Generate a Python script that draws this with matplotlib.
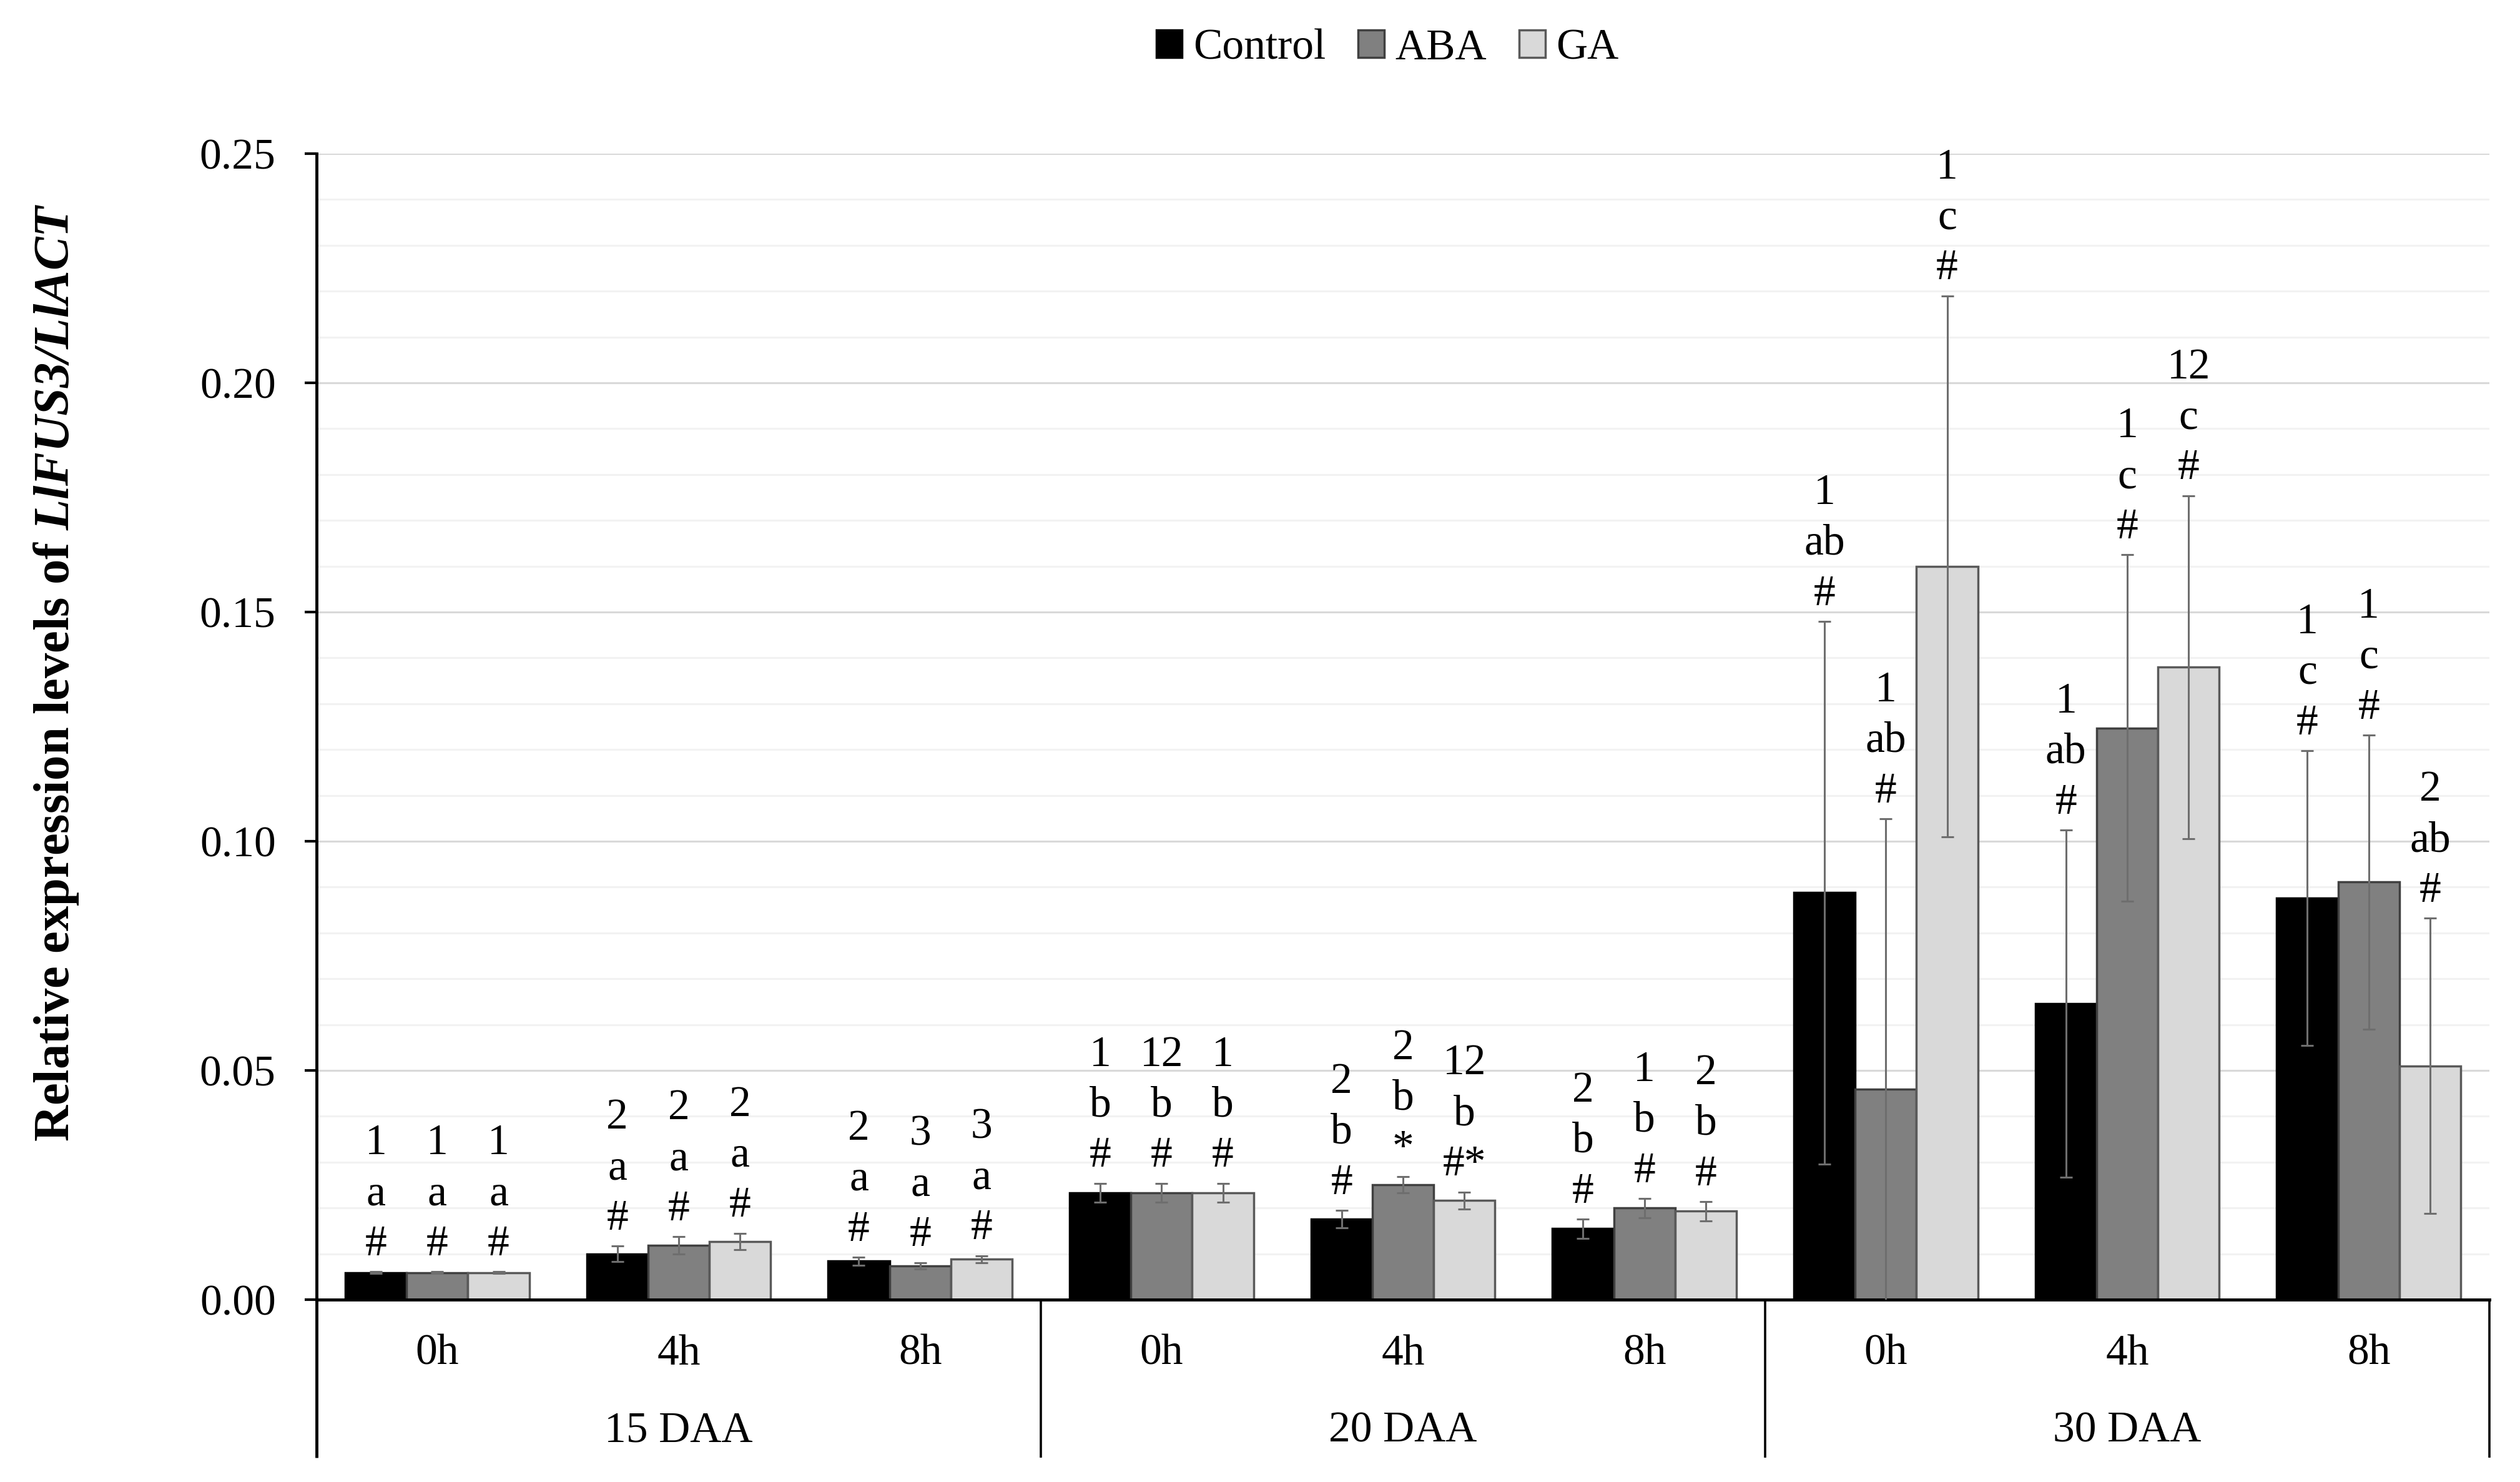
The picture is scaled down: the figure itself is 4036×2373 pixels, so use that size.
import numpy as np
import matplotlib
matplotlib.use("Agg")
import matplotlib.pyplot as plt
from matplotlib.patches import Patch
from matplotlib.ticker import MultipleLocator

# data (9 categories: 3 stages x 3 time points)
groups = ["15 DAA", "20 DAA", "30 DAA"]
times = ["0h", "4h", "8h"]
series = ["Control", "ABA", "GA"]

control = [0.0059, 0.0100, 0.0084, 0.0233, 0.0176, 0.0155, 0.0888, 0.0646, 0.0876]
aba = [0.0059, 0.0118, 0.0074, 0.0233, 0.0251, 0.0200, 0.0459, 0.1247, 0.0911]
ga = [0.0059, 0.0127, 0.0088, 0.0233, 0.0216, 0.0193, 0.1600, 0.1380, 0.0510]

err_control = [0.0002, 0.0017, 0.0009, 0.0021, 0.0019, 0.0021, 0.0592, 0.0379, 0.0322]
err_aba = [0.0002, 0.0019, 0.0007, 0.0021, 0.0018, 0.0021, 0.0590, 0.0378, 0.0321]
err_ga = [0.0002, 0.0018, 0.0008, 0.0021, 0.0019, 0.0021, 0.0590, 0.0374, 0.0322]

lbl_control = ["1\na\n#", "2\na\n#", "2\na\n#", "1\nb\n#", "2\nb\n#", "2\nb\n#",
               "1\nab\n#", "1\nab\n#", "1\nc\n#"]
lbl_aba = ["1\na\n#", "2\na\n#", "3\na\n#", "12\nb\n#", "2\nb\n*", "1\nb\n#",
           "1\nab\n#", "1\nc\n#", "1\nc\n#"]
lbl_ga = ["1\na\n#", "2\na\n#", "3\na\n#", "1\nb\n#", "12\nb\n#*", "2\nb\n#",
          "1\nc\n#", "12\nc\n#", "2\nab\n#"]

plt.rcParams["font.family"] = "Liberation Serif"
plt.rcParams["mathtext.fontset"] = "custom"
plt.rcParams["mathtext.it"] = "Liberation Serif:italic:bold"
plt.rcParams["mathtext.rm"] = "Liberation Serif:italic:bold"
plt.rcParams["mathtext.bf"] = "Liberation Serif:italic:bold"

W, H = 4037, 2373
fig = plt.figure(figsize=(W / 100, H / 100), dpi=100)
left, right, top, bottom = 507, 3987, 246, 2081
ax = fig.add_axes([left / W, 1 - bottom / H, (right - left) / W, (bottom - top) / H])

fs = 50
colors = ["#000000", "#808080", "#d9d9d9"]
edges = ["#000000", "#404040", "#595959"]
vals = [control, aba, ga]
errs = [err_control, err_aba, err_ga]
lbls = [lbl_control, lbl_aba, lbl_ga]

n = len(control)
w = 0.254
xc = np.arange(n) + 0.5
for k in range(3):
    x = xc + (k - 1) * w
    ax.bar(x, vals[k], width=w, color=colors[k], edgecolor=edges[k], linewidth=2.5, zorder=2)
    ax.errorbar(x, vals[k], yerr=errs[k], fmt="none", ecolor="#6e6e6e", elinewidth=2.2,
                capsize=7, capthick=2.2, zorder=3)
    for xi, v, e, t in zip(x, vals[k], errs[k], lbls[k]):
        ax.annotate(t, (xi, v + e), xytext=(0, 8), textcoords="offset points",
                    ha="center", va="bottom", fontsize=fs, linespacing=1.36, zorder=4)

ax.set_xlim(0, n)
ax.set_ylim(0, 0.25)
ax.yaxis.set_major_locator(MultipleLocator(0.05))
ax.yaxis.set_minor_locator(MultipleLocator(0.01))
ax.yaxis.set_major_formatter(matplotlib.ticker.FormatStrFormatter("%.2f"))
ax.grid(axis="y", which="major", color="#d9d9d9", linewidth=2.2, zorder=0)
ax.grid(axis="y", which="minor", color="#f2f2f2", linewidth=2.2, zorder=0)
ax.set_axisbelow(True)
ax.tick_params(axis="y", which="major", length=14, width=3, pad=33, labelsize=fs, direction="out")
ax.tick_params(axis="y", which="minor", length=0)
ax.tick_params(axis="x", which="both", length=0, labelbottom=False)
for s in ["top", "right"]:
    ax.spines[s].set_visible(False)
ax.spines["left"].set_linewidth(3.5)
ax.spines["bottom"].set_linewidth(3.5)

# multi-level category axis below the plot
tr = ax.get_xaxis_transform()
depth = -(2334 - bottom) / (bottom - top)
for i, xb in enumerate([0, 3, 6, 9]):
    ax.plot([xb, xb], [0, depth], color="black", lw=3.5 if i == 0 else 2.6,
            transform=tr, clip_on=False, solid_capstyle="butt")
for i in range(n):
    ax.text(xc[i], -(2168 - bottom) / (bottom - top), times[i % 3], transform=tr,
            ha="center", va="center", fontsize=fs)
for g, name in enumerate(groups):
    ax.text(3 * g + 1.5, -(2292 - bottom) / (bottom - top), name, transform=tr,
            ha="center", va="center", fontsize=fs)

fig.text(90 / W, 1 - 1077 / H, r"Relative expression levels of $\mathit{LlFUS3/LlACT}$",
         rotation=90, ha="center", va="center", fontsize=58, fontweight="bold")

handles = [Patch(facecolor=c, edgecolor=e, linewidth=2.5) for c, e in zip(colors, edges)]
fig.legend(handles, series, loc="center", bbox_to_anchor=(2222 / W, 1 - 78 / H), ncol=3,
           frameon=False, fontsize=fs, handlelength=0.6, handleheight=0.6,
           handletextpad=0.25, columnspacing=0.75, borderpad=0)

fig.savefig("out.png", dpi=100)
